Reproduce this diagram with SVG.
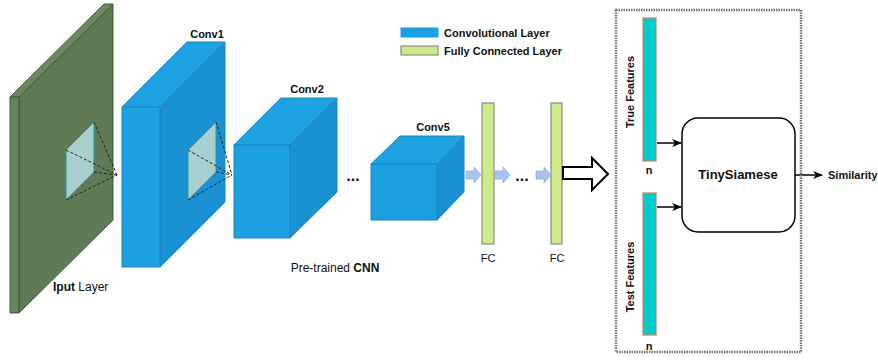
<svg xmlns="http://www.w3.org/2000/svg" width="878" height="360" viewBox="0 0 878 360">
<style>
text{font-family:"Liberation Sans",Arial,sans-serif;font-size:11px;fill:#111}
.b{font-weight:bold}
.front{fill:#1ba1e2;stroke:#1a86c6;stroke-width:1}
.top{fill:#1da2e2;stroke:#1a86c6;stroke-width:1}
.side{fill:#1991d2;stroke:#1a86c6;stroke-width:1}
.fc{fill:#cdeb8b;stroke:#8a8a8a;stroke-width:1.2}
.sm{fill:#a9c4eb;stroke:#8fb0e0;stroke-width:0.8}
.rf{fill:#a8cfcf;stroke:#1a9a9a;stroke-width:1}
.dash{fill:none;stroke:#222;stroke-width:1;stroke-dasharray:3,2}
.feat{fill:#00cccc;stroke:#e07a50;stroke-width:1.2}
.con{fill:none;stroke:#000;stroke-width:1.5}
.dots{font-weight:bold;font-size:16px}
</style>
<defs>
<marker id="ah" markerWidth="10" markerHeight="10" refX="9" refY="5" orient="auto" markerUnits="userSpaceOnUse">
<path d="M0,1 L10,5 L0,9 L3,5 Z" fill="#000"/>
</marker>
</defs>

<g id="input-layer">
<polygon points="19,97 113,4 113,220 19,313" fill="#5f7a54" stroke="#3f5a35" stroke-width="1"/>
<polygon points="10,97 104,4 113,4 19,97" fill="#6a8a5e" stroke="#3f5a35" stroke-width="1"/>
<polygon points="10,97 19,97 19,313 10,313" fill="#66845a" stroke="#3f5a35" stroke-width="1"/>
<polygon class="rf" points="66,150 94,122 94,172 66,200"/>
<path class="dash" d="M66,150 L117,175 M94,122 L117,175 M94,172 L117,175 M66,200 L117,175"/>
<text x="53" y="291" style="font-size:12px"><tspan class="b">Iput</tspan> Layer</text>
</g>

<g id="conv1">
<polygon class="side" points="160,107 225,42 225,202 160,267"/>
<polygon class="top" points="122,107 187,42 225,42 160,107"/>
<rect class="front" x="122" y="107" width="38" height="160"/>
<polygon class="rf" points="188,150 216,122 216,172 188,200"/>
<path class="dash" d="M188,150 L232,175 M216,122 L232,175 M216,172 L232,175 M188,200 L232,175"/>
<text class="b" x="207" y="38" text-anchor="middle">Conv1</text>
</g>

<g id="conv2">
<polygon class="side" points="290,145 337,98 337,192 290,238"/>
<polygon class="top" points="234,145 281,98 337,98 290,145"/>
<rect class="front" x="234" y="145" width="56" height="93"/>
<text class="b" x="307" y="93" text-anchor="middle">Conv2</text>
</g>

<text class="dots" x="353" y="181" text-anchor="middle">...</text>

<g id="conv5">
<polygon class="side" points="437,164 464,136 464,192 437,220"/>
<polygon class="top" points="371,164 400,136 464,136 437,164"/>
<rect class="front" x="371" y="164" width="66" height="56"/>
<text class="b" x="433" y="131" text-anchor="middle">Conv5</text>
</g>

<text x="335" y="272" text-anchor="middle" style="font-size:12px">Pre-trained <tspan class="b">CNN</tspan></text>

<g id="legend">
<rect x="401" y="28" width="37" height="9" fill="#1ba1e2" stroke="#1ba1e2"/>
<text class="b" x="444" y="37">Convolutional Layer</text>
<rect x="401" y="46" width="37" height="9" class="fc"/>
<text class="b" x="444" y="55">Fully Connected Layer</text>
</g>

<g id="fc1">
<rect class="fc" x="482" y="103" width="12" height="141"/>
<text x="488" y="262" text-anchor="middle">FC</text>
</g>
<g id="fc2">
<rect class="fc" x="551" y="103" width="11" height="141"/>
<text x="557" y="262" text-anchor="middle">FC</text>
</g>
<text class="dots" x="522" y="181" text-anchor="middle">...</text>

<g id="connectors">
<path class="sm" d="M466,171 h8 v-4 l7,8 l-7,8 v-4 h-8 Z"/>
<path class="sm" d="M495,171 h8 v-4 l7,8 l-7,8 v-4 h-8 Z"/>
<path class="sm" d="M536,171 h8 v-4 l7,8 l-7,8 v-4 h-8 Z"/>
<path d="M563,167 H592 V158 L608,174 L592,190 V179 H563 Z" fill="#fff" stroke="#000" stroke-width="2"/>
<line class="con" x1="657" y1="143" x2="681" y2="143" marker-end="url(#ah)"/>
<line class="con" x1="657" y1="207" x2="681" y2="207" marker-end="url(#ah)"/>
<line class="con" x1="795" y1="175" x2="822" y2="175" marker-end="url(#ah)"/>
</g>

<g id="siamese-box">
<rect x="616" y="10" width="185" height="342" fill="none" stroke="#777" stroke-width="2.5" stroke-dasharray="1.5,1"/>
</g>

<g id="true-features">
<rect class="feat" x="643" y="18" width="13" height="143"/>
<text class="b" transform="translate(634,92) rotate(-90)" text-anchor="middle">True Features</text>
<text class="b" x="649" y="174" text-anchor="middle">n</text>
</g>

<g id="test-features">
<rect class="feat" x="643" y="193" width="13" height="142"/>
<text class="b" transform="translate(634,277) rotate(-90)" text-anchor="middle">Test Features</text>
<text class="b" x="649" y="350" text-anchor="middle">n</text>
</g>

<g id="tinysiamese">
<rect x="682" y="118" width="113" height="114" rx="16" fill="#fff" stroke="#000" stroke-width="1.5"/>
<text class="b" x="738" y="179" text-anchor="middle" style="font-size:13px">TinySiamese</text>
</g>

<g id="similarity">
<text class="b" x="828" y="179">Similarity</text>
</g>
</svg>
